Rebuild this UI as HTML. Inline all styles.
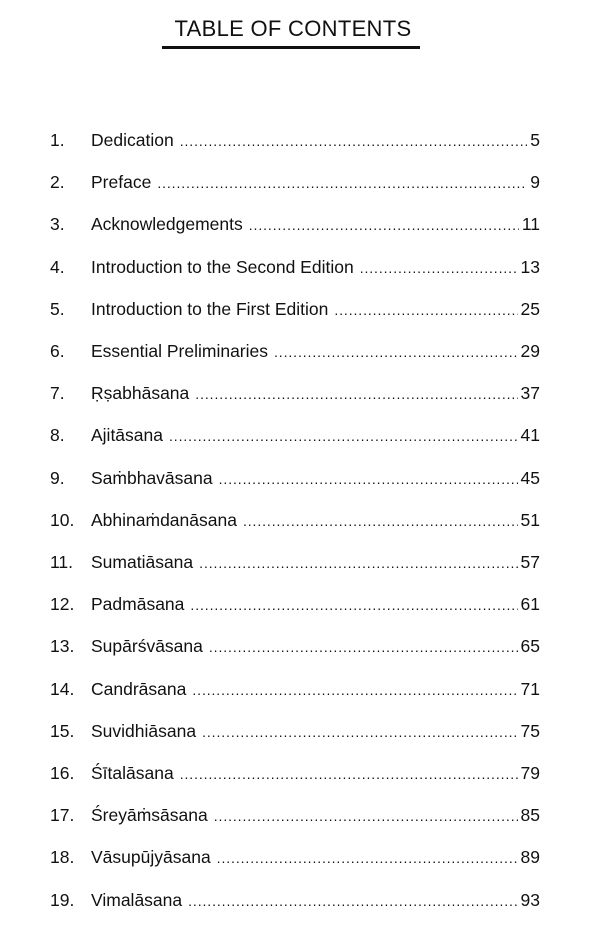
<!DOCTYPE html>
<html><head><meta charset="utf-8"><style>
body{margin:0;width:600px;height:946px;background:#fff;position:relative;overflow:hidden;font-family:"Liberation Sans",sans-serif;color:#111}
.title{position:absolute;left:0;width:586px;top:16px;text-align:center;font-size:22px;letter-spacing:0.3px}
.ul{position:absolute;left:162px;top:46px;width:258px;height:3px;background:#111}
.row{position:absolute;left:50px;width:490px;height:24px;display:flex;align-items:baseline;font-size:17.5px;white-space:nowrap}
.n{width:41px;flex:none}
.t{flex:none;margin-right:6px}
.d{flex:1;overflow:hidden;font-size:14px;letter-spacing:0.9px}
.p{flex:none;margin-left:3px}
</style></head><body>
<div class="title">TABLE OF CONTENTS</div>
<div class="ul"></div>
<div id="c"></div>
<script>
var e=[["1.","Dedication","5"],["2.","Preface","9"],["3.","Acknowledgements","11"],["4.","Introduction to the Second Edition","13"],["5.","Introduction to the First Edition","25"],["6.","Essential Preliminaries","29"],["7.","Ṛṣabhāsana","37"],["8.","Ajitāsana","41"],["9.","Saṁbhavāsana","45"],["10.","Abhinaṁdanāsana","51"],["11.","Sumatiāsana","57"],["12.","Padmāsana","61"],["13.","Supārśvāsana","65"],["14.","Candrāsana","71"],["15.","Suvidhiāsana","75"],["16.","Śītalāsana","79"],["17.","Śreyāṁsāsana","85"],["18.","Vāsupūjyāsana","89"],["19.","Vimalāsana","93"]];
var dots=new Array(200).join(".");var h="";
e.forEach(function(r,i){h+='<div class="row" style="top:'+(130+i*42.2)+'px"><span class="n">'+r[0]+'</span><span class="t">'+r[1]+'</span><span class="d">'+dots+'</span><span class="p">'+r[2]+'</span></div>';});
document.getElementById("c").innerHTML=h;
</script>
</body></html>
